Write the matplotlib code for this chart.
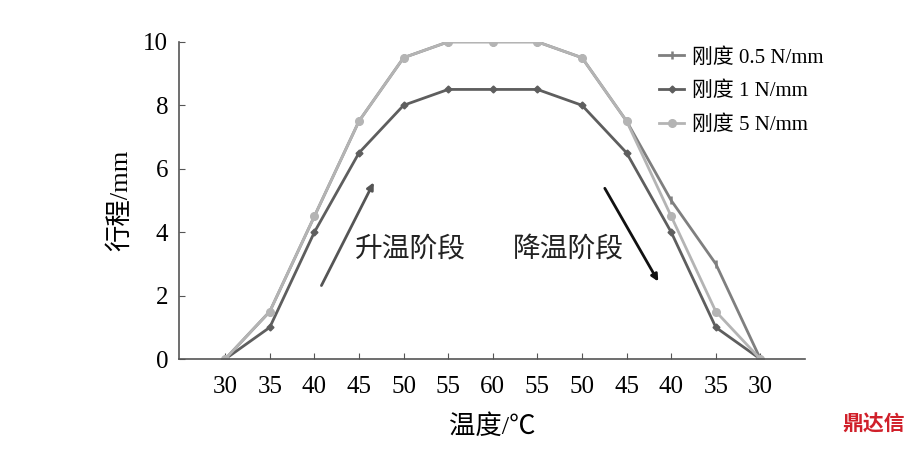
import matplotlib.pyplot as plt
import numpy as np

plt.rcParams['font.family'] = ['Liberation Serif', 'Noto Sans CJK SC']

temps = ['30', '35', '40', '45', '50', '55', '60', '55', '50', '45', '40', '35', '30']
stroke_05 = [0, 1.5, 4.5, 7.5, 9.5, 10, 10, 10, 9.5, 7.5, 5, 3, 0]
stroke_1 = [0, 1, 4, 6.5, 8, 8.5, 8.5, 8.5, 8, 6.5, 4, 1, 0]
stroke_5 = [0, 1.5, 4.5, 7.5, 9.5, 10, 10, 10, 9.5, 7.5, 4.5, 1.5, 0]

x = np.arange(len(temps))

fig = plt.figure(figsize=(9.19, 4.5), dpi=100)
ax = fig.add_axes([0.195, 0.202, 0.681, 0.705])

ax.plot(x, stroke_05, color='#7f7f7f', lw=2, marker='|', ms=6, mew=1.8, label='刚度 0.5 N/mm')
ax.plot(x, stroke_1, color='#5e5e5e', lw=2, marker='D', ms=3.5, label='刚度 1 N/mm')
ax.plot(x, stroke_5, color='#b4b4b4', lw=2, marker='o', ms=5.5, label='刚度 5 N/mm')

# arrows for heating / cooling stage
ax.annotate('', xy=(3.36, 5.65), xytext=(2.13, 2.24),
            arrowprops=dict(arrowstyle='-|>', color='#555555', lw=2, mutation_scale=10))
ax.annotate('', xy=(9.74, 2.37), xytext=(8.48, 5.46),
            arrowprops=dict(arrowstyle='-|>', color='#111111', lw=2, mutation_scale=10))
ax.text(4.15, 3.44, '升温阶段', fontsize=20, ha='center', va='center', color='#222222')
ax.text(7.7, 3.44, '降温阶段', fontsize=20, ha='center', va='center', color='#222222')

ax.set_xlim(-1.03, 13.0)
ax.set_ylim(0, 10)
ax.set_xticks(x)
ax.set_xticklabels(temps)
ax.set_yticks([0, 2, 4, 6, 8, 10])
ax.tick_params(direction='in', length=4, color='#555555', labelsize=18, pad=8)
ax.tick_params(axis='x', pad=12)
for s in ['top', 'right']:
    ax.spines[s].set_visible(False)
for s in ['left', 'bottom']:
    ax.spines[s].set_color('#555555')
    ax.spines[s].set_linewidth(1.2)

ax.set_xlabel('温度/℃', fontsize=19, labelpad=12)
ax.set_ylabel('行程/mm', fontsize=19, labelpad=8)

ax.legend(loc='upper right', bbox_to_anchor=(1.06, 1.04), frameon=False, fontsize=15,
          handlelength=1.2, handletextpad=0.4, labelspacing=0.68)

fig.text(0.985, 0.035, '鼎达信', color='#d0202a', fontsize=15, fontweight='bold',
         ha='right', va='bottom', family=['Noto Sans CJK SC'])

fig.savefig('out.png', dpi=100)
